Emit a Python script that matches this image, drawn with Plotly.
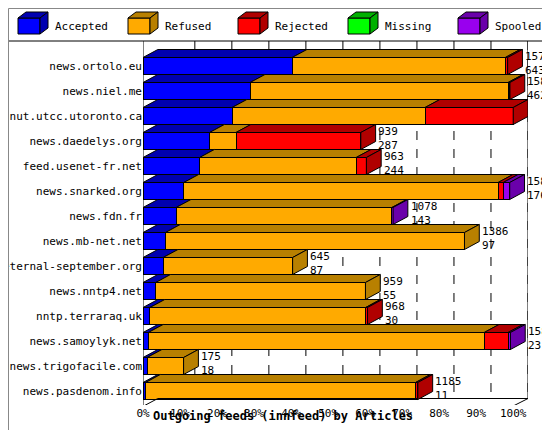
import plotly.graph_objects as go

hosts = ["news.ortolo.eu", "news.niel.me", "nut.utcc.utoronto.ca", "news.daedelys.org",
         "feed.usenet-fr.net", "news.snarked.org", "news.fdn.fr", "news.mb-net.net",
         "eternal-september.org", "news.nntp4.net", "nntp.terraraq.uk", "news.samoylyk.net",
         "news.trigofacile.com", "news.pasdenom.info"]
offered = [1572, 1582, 1596, 939, 963, 1581, 1078, 1386, 645, 959, 968, 1587, 175, 1185]
accepted = [643, 462, 384, 287, 244, 176, 143, 97, 87, 55, 30, 23, 18, 11]
refused = [919, 1112, 832, 114, 675, 1355, 930, 1289, 558, 904, 930, 1448, 157, 1164]
rejected = [10, 8, 380, 538, 44, 22, 0, 0, 0, 0, 8, 103, 0, 10]
missing = [0, 0, 0, 0, 0, 0, 0, 0, 0, 0, 0, 0, 0, 0]
spooled = [0, 0, 0, 0, 0, 28, 5, 0, 0, 0, 0, 10, 0, 0]
series_names = ["Accepted", "Refused", "Rejected", "Missing", "Spooled"]
colors = ["#0000FF", "#FFAA00", "#FF0000", "#00FF00", "#9900EE"]
dark = ["#0000B0", "#B88000", "#B00000", "#00B000", "#6A00AA"]
xticks = [0, 10, 20, 30, 40, 50, 60, 70, 80, 90, 100]

scale = 100.0 / max(offered)
DX, DY, BW = 4.0, 0.32, 0.68
series = [accepted, refused, rejected, missing, spooled]
ys = list(range(len(hosts)))

L, R, T, B, W, H = 135, 30, 33, 33, 550, 430
PW, PH = W - L - R, H - T - B
def px(x): return (x - L) / PW
def py(y): return (H - B - y) / PH

fig = go.Figure()
shapes = []
for t in xticks[1:]:
    shapes.append(dict(type="line", xref="x", yref="y", x0=t + DX, x1=t + DX, y0=-1, y1=13.3,
                       line=dict(color="black", width=1, dash="dash"), layer="below"))
ln = dict(color="black", width=1)
shapes += [
    dict(type="line", xref="x", yref="y", x0=100 + DX, x1=100 + DX, y0=-1, y1=13.3, line=ln),
    dict(type="line", xref="x", yref="y", x0=0, x1=0, y0=-1, y1=13.6, line=ln),
    dict(type="line", xref="x", yref="y", x0=-3, x1=DX, y0=13.85, y1=13.3, line=ln),
    dict(type="line", xref="x", yref="y", x0=DX, x1=100 + DX, y0=13.3, y1=13.3, line=ln),
    dict(type="line", xref="x", yref="y", x0=100, x1=100 + DX, y0=13.6, y1=13.3, line=ln),
    dict(type="line", xref="paper", yref="paper", x0=px(0), x1=px(W), y0=py(33), y1=py(33), line=ln),
    dict(type="rect", xref="paper", yref="paper", x0=px(0.5), x1=px(W - 0.5), y0=py(0.5), y1=py(H - 0.5),
         line=dict(color="#888888", width=1)),
]

for k, (name, vals) in enumerate(zip(series_names, series)):
    xs = [v * scale for v in vals]
    fig.add_trace(go.Bar(y=ys, x=xs, orientation="h", name=name, width=BW, showlegend=False,
                         marker=dict(color=colors[k], line=dict(color="black", width=1))))
    # legend entry (3D box)
    lx = 10 + 110 * k
    x0, x1, y0, y1 = px(lx), px(lx + 22), py(26), py(10)
    ox, oy = 8 / PW, 6 / PH
    shapes.append(dict(type="rect", xref="paper", yref="paper", x0=x0, x1=x1, y0=y0, y1=y1,
                       fillcolor=colors[k], line=ln))
    shapes.append(dict(type="path", xref="paper", yref="paper",
                       path=f"M {x0},{y1} L {x0+ox},{y1+oy} L {x1+ox},{y1+oy} L {x1},{y1} Z",
                       fillcolor=dark[k], line=ln))
    shapes.append(dict(type="path", xref="paper", yref="paper",
                       path=f"M {x1},{y1} L {x1+ox},{y1+oy} L {x1+ox},{y0+oy} L {x1},{y0} Z",
                       fillcolor=dark[k], line=ln))
    fig.add_annotation(x=px(lx + 35), y=py(19), xref="paper", yref="paper", xanchor="left",
                       yanchor="middle", showarrow=False, text=name,
                       font=dict(family="DejaVu Sans Mono", size=11, color="black"))

for i in ys:
    start = 0.0
    last = None
    for k, vals in enumerate(series):
        w = vals[i] * scale
        if w <= 0:
            continue
        x0, x1 = start, start + w
        yt = i - BW / 2
        shapes.append(dict(type="path", xref="x", yref="y",
                           path=f"M {x0},{yt} L {x0+DX},{yt-DY} L {x1+DX},{yt-DY} L {x1},{yt} Z",
                           fillcolor=dark[k], line=ln))
        start = x1
        last = k
    yt, yb = i - BW / 2, i + BW / 2
    shapes.append(dict(type="path", xref="x", yref="y",
                       path=f"M {start},{yt} L {start+DX},{yt-DY} L {start+DX},{yb-DY} L {start},{yb} Z",
                       fillcolor=dark[last], line=ln))
    fig.add_annotation(x=start + DX + 0.2, y=i - 0.12, xref="x", yref="y", xanchor="left",
                       yanchor="middle", showarrow=False, align="left",
                       text=f"{offered[i]}<br>{accepted[i]}",
                       font=dict(family="DejaVu Sans Mono", size=11, color="black"))

fig.add_annotation(x=px(275), y=py(417), xref="paper", yref="paper", showarrow=False,
                   text="<b>Outgoing feeds (innfeed) by Articles</b>",
                   font=dict(family="DejaVu Sans Mono", size=12, color="black"))

fig.update_layout(
    width=W, height=H, barmode="stack",
    margin=dict(l=L, r=R, t=T, b=B, autoexpand=False),
    plot_bgcolor="white", paper_bgcolor="white",
    font=dict(family="DejaVu Sans Mono", size=11, color="black"),
    shapes=shapes, showlegend=False,
    xaxis=dict(range=[0, 104], tickvals=xticks, ticktext=[f"{t}%" for t in xticks],
               showgrid=False, zeroline=False, ticks="", showline=False, automargin=False),
    yaxis=dict(range=[13.56, -1], tickvals=ys, ticktext=hosts, showgrid=False,
               zeroline=False, ticks="", showline=False, automargin=False),
)
fig.write_html("out.html")
